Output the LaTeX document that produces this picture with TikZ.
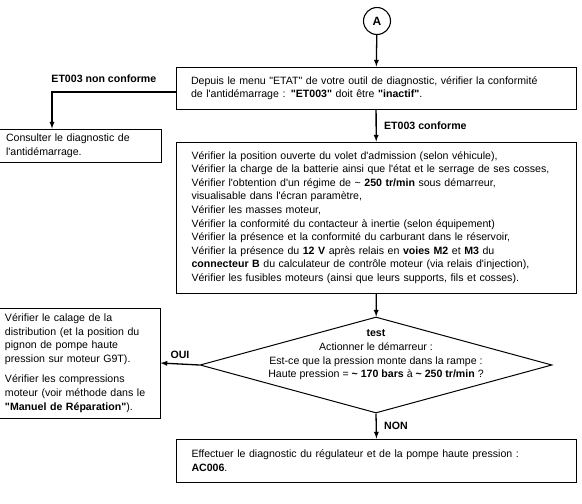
\documentclass[tikz,border=0pt]{standalone}
\usepackage{fontspec}
\setmainfont{Liberation Sans}[Ligatures=TeXOff]
\usetikzlibrary{shapes.geometric}
\newcommand{\tld}{\textasciitilde}

\begin{document}
\begin{tikzpicture}[
  x=1pt, y=-1pt,
  every node/.style={font=\fontsize{10.6}{13.6}\selectfont},
  box/.style={draw, rectangle, line width=1pt, align=left, inner xsep=15pt,
    text width=370pt, minimum width=400pt},
  sidebox/.style={draw, rectangle, line width=1pt, align=left, inner xsep=7pt,
    text width=148pt, minimum width=162pt},
  flow/.style={draw, -latex, line width=1.3pt},
  tag/.style={font=\fontsize{10.6}{13}\selectfont\bfseries}
]
\useasboundingbox (0,0) rectangle (582,504);

\node[draw, circle, line width=1.1pt, minimum size=27pt, inner sep=0pt,
  font=\fontsize{12}{14}\selectfont\bfseries] (A) at (377,21) {A};

\node[box, minimum height=42pt] (etat) at (376,88)
  {Depuis le menu "ETAT" de votre outil de diagnostic, vérifier la conformité\\
   de l'antidémarrage : \textbf{"ET003"} doit être \textbf{"inactif"}.};

\node[sidebox, minimum height=33pt] (consult) at (80,145.5)
  {Consulter le diagnostic de\\ l'antidémarrage.};

\node[box, minimum height=151pt] (verif) at (376.5,217.5)
  {Vérifier la position ouverte du volet d'admission (selon véhicule),\\
   Vérifier la charge de la batterie ainsi que l'état et le serrage de ses cosses,\\
   Vérifier l'obtention d'un régime de \tld\ \textbf{250 tr/min} sous démarreur,\\
   visualisable dans l'écran paramètre,\\
   Vérifier les masses moteur,\\
   Vérifier la conformité du contacteur à inertie (selon équipement)\\
   Vérifier la présence et la conformité du carburant dans le réservoir,\\
   Vérifier la présence du \textbf{12 V} après relais en \textbf{voies M2} et \textbf{M3} du\\
   \textbf{connecteur B} du calculateur de contrôle moteur (via relais d'injection),\\
   Vérifier les fusibles moteurs (ainsi que leurs supports, fils et cosses).};

\node[draw, diamond, line width=1pt, minimum width=352pt, minimum height=96pt,
  inner sep=0pt,
  label={[align=center, yshift=10pt]center:\textbf{test}\\ Actionner le démarreur :\\
    Est-ce que la pression monte dans la rampe :\\
    Haute pression = \textbf{\tld\ 170 bars} à \textbf{\tld\ 250 tr/min} ?}] (test) at (376,365) {};

\node[sidebox, minimum height=110pt] (calage) at (79,363)
  {Vérifier le calage de la\\ distribution (et la position du\\ pignon de pompe haute\\
   pression sur moteur G9T).\\[7pt]
   Vérifier les compressions\\ moteur (voir méthode dans le\\
   \textbf{"Manuel de Réparation"}).};

\node[box, minimum height=43pt] (regul) at (376.5,460.5)
  {Effectuer le diagnostic du régulateur et de la pompe haute pression :\\
   \textbf{AC006}.};

% liaisons
\draw[flow] (A) -- (etat);
\draw[flow] ([yshift=-4pt]etat.west) -| ([xshift=-28pt]consult.north)
  node[tag, above=5pt, pos=0.29] {ET003 non conforme};
\draw[flow] (etat) -- (verif) node[tag, right=4pt, midway] {ET003 conforme};
\draw[flow] (verif) -- (test);
\draw[flow] (test.west) -- (calage.east) node[tag, above=1pt, midway] {OUI};
\draw[flow] (test.south) -- (regul.north) node[tag, right=4pt, midway] {NON};

\end{tikzpicture}
\end{document}
